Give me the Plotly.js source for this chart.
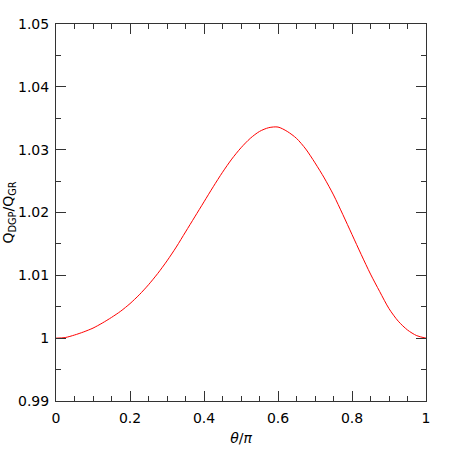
<!DOCTYPE html>
<html>
<head>
<meta charset="utf-8">
<script src="https://cdn.plot.ly/plotly-3.0.1.min.js"></script>
<style>
  html, body { margin: 0; padding: 0; background: #fff; }
  #chart { width: 450px; height: 450px; }
</style>
</head>
<body>
<div id="chart"></div>
<script>
// theta/pi and Q_DGP/Q_GR
var thetaOverPi = [0, 0.025, 0.05, 0.075, 0.1, 0.125, 0.15, 0.175, 0.2, 0.225,
                   0.25, 0.275, 0.3, 0.325, 0.35, 0.375, 0.4, 0.425, 0.45, 0.475,
                   0.5, 0.525, 0.55, 0.575, 0.6, 0.625, 0.65, 0.675, 0.7, 0.725,
                   0.75, 0.775, 0.8, 0.825, 0.85, 0.875, 0.9, 0.925, 0.95, 0.975, 1.0];
var qRatio = [1.0000, 1.0001, 1.0005, 1.0010, 1.0016, 1.0024, 1.0033, 1.0043, 1.0055, 1.0069,
              1.0085, 1.0103, 1.0123, 1.0145, 1.0169, 1.0193, 1.0217, 1.0241, 1.0264, 1.0285,
              1.0303, 1.0318, 1.0329, 1.0335, 1.0336, 1.0329, 1.0318, 1.0301, 1.0279, 1.0255,
              1.0228, 1.0197, 1.0165, 1.0133, 1.0102, 1.0074, 1.0047, 1.0027, 1.0013, 1.0004, 1.0000];

var xTickVals = [0, 0.2, 0.4, 0.6, 0.8, 1];
var xTickText = ["0", "0.2", "0.4", "0.6", "0.8", "1"];
var yTickVals = [0.99, 1, 1.01, 1.02, 1.03, 1.04, 1.05];
var yTickText = ["0.99", "1", "1.01", "1.02", "1.03", "1.04", "1.05"];

var FONT = "DejaVu Sans, Liberation Sans, sans-serif";

var axisStyle = {
  showline: true,
  linecolor: "#333",
  linewidth: 1,
  mirror: "ticks",
  ticks: "inside",
  ticklen: 10,
  tickcolor: "#333",
  showgrid: false,
  zeroline: false,
  tickfont: { family: FONT, size: 14, color: "#000" }
};

var data = [{
  type: "scatter",
  mode: "lines",
  x: thetaOverPi,
  y: qRatio,
  line: { color: "#ff0000", width: 1, shape: "spline", smoothing: 0.8 },
  hoverinfo: "skip"
}];

var layout = {
  width: 450,
  height: 450,
  margin: { l: 56, r: 24, t: 24, b: 49 },
  paper_bgcolor: "#fff",
  plot_bgcolor: "#fff",
  showlegend: false,
  xaxis: Object.assign({}, axisStyle, {
    range: [0, 1],
    tickmode: "array",
    tickvals: xTickVals,
    ticktext: xTickText,
    ticklabelstandoff: 4,
    minor: { dtick: 0.05, tick0: 0, ticks: "inside", ticklen: 5, tickcolor: "#333", showgrid: false },
    title: { text: "<i>θ</i>/<i>π</i>", font: { family: FONT, size: 14, color: "#000" }, standoff: 8 }
  }),
  yaxis: Object.assign({}, axisStyle, {
    range: [0.99, 1.05],
    tickmode: "array",
    tickvals: yTickVals,
    ticktext: yTickText,
    ticklabelstandoff: 3,
    minor: { dtick: 0.005, tick0: 0.99, ticks: "inside", ticklen: 5, tickcolor: "#333", showgrid: false },
    title: { text: "Q<sub>DGP</sub>/Q<sub>GR</sub>", font: { family: FONT, size: 14, color: "#000" }, standoff: 4 }
  })
};

Plotly.newPlot(document.getElementById("chart"), data, layout, { displayModeBar: false, staticPlot: true });
</script>
</body>
</html>
